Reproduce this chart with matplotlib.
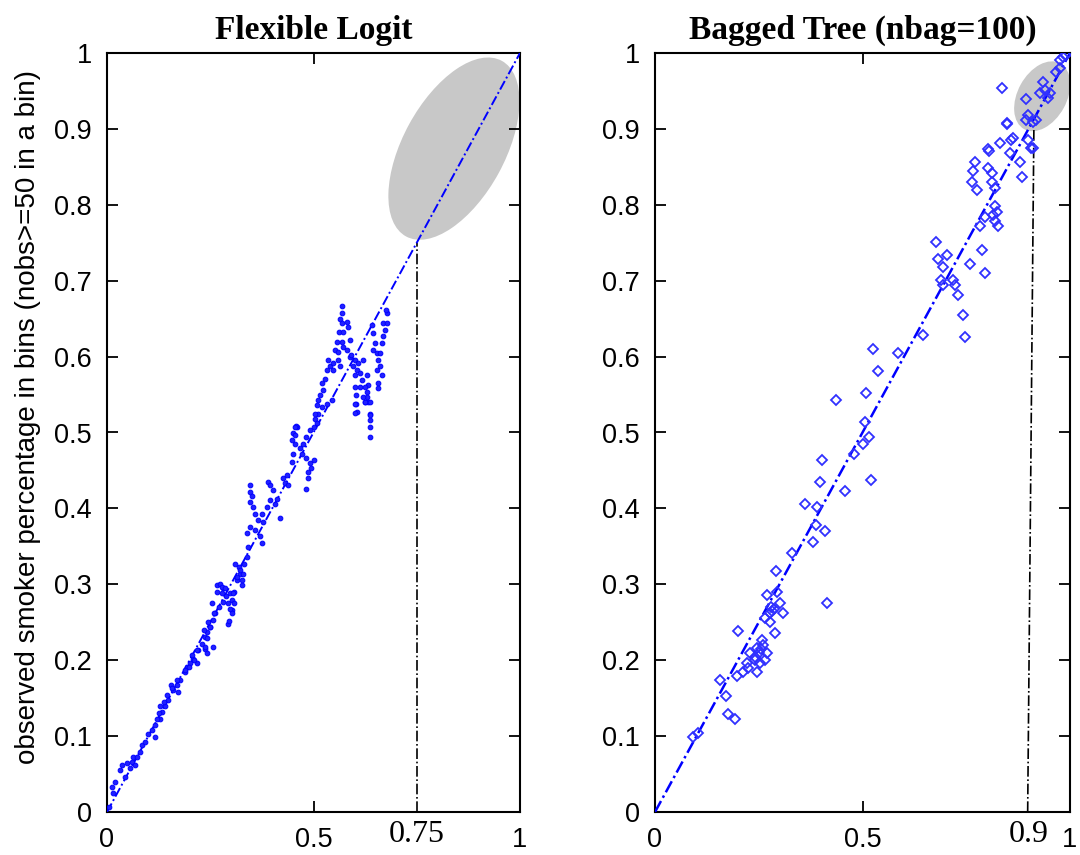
import matplotlib
matplotlib.use("Agg")
import matplotlib.pyplot as plt
from matplotlib.patches import Ellipse
from matplotlib.transforms import Affine2D, blended_transform_factory

plt.rcParams["font.family"] = ["Liberation Sans", "DejaVu Sans"]

# --- Flexible logit: predicted share vs observed share per bin ---
logit_pred = [
    0.006, 0.015, 0.011, 0.019, 0.031, 0.036, 0.048, 0.060, 0.068, 0.056, 0.044, 0.064,
    0.072, 0.080, 0.084, 0.092, 0.100, 0.108, 0.116, 0.116, 0.128, 0.132, 0.140, 0.148,
    0.161, 0.156, 0.169, 0.173, 0.177, 0.189, 0.193, 0.201, 0.209, 0.217, 0.205, 0.221,
    0.229, 0.237, 0.241, 0.249, 0.245, 0.257, 0.261, 0.270, 0.282, 0.294, 0.302, 0.294,
    0.237, 0.257, 0.241, 0.121, 0.125, 0.129, 0.137, 0.145, 0.157, 0.169, 0.190, 0.198,
    0.210, 0.218, 0.238, 0.242, 0.234, 0.250, 0.258, 0.254, 0.266, 0.274, 0.282, 0.266,
    0.278, 0.287, 0.299, 0.307, 0.303, 0.307, 0.299, 0.303, 0.295, 0.315, 0.323, 0.319,
    0.331, 0.327, 0.278, 0.286, 0.306, 0.314, 0.322, 0.310, 0.330, 0.326, 0.338, 0.342,
    0.338, 0.346, 0.358, 0.370, 0.375, 0.366, 0.378, 0.375, 0.387, 0.395, 0.419, 0.407,
    0.411, 0.403, 0.391, 0.395, 0.346, 0.346, 0.350, 0.346, 0.354, 0.358, 0.427, 0.431,
    0.439, 0.435, 0.447, 0.451, 0.455, 0.451, 0.459, 0.467, 0.471, 0.447, 0.475, 0.483,
    0.492, 0.500, 0.483, 0.492, 0.495, 0.487, 0.500, 0.487, 0.483, 0.504, 0.512, 0.508,
    0.520, 0.532, 0.544, 0.457, 0.568, 0.568, 0.564, 0.568, 0.580, 0.584, 0.562, 0.572,
    0.568, 0.556, 0.552, 0.560, 0.572, 0.588, 0.580, 0.588, 0.536, 0.540, 0.548, 0.532,
    0.528, 0.520, 0.523, 0.516, 0.512, 0.508, 0.560, 0.548, 0.564, 0.504, 0.455, 0.455,
    0.592, 0.600, 0.596, 0.608, 0.605, 0.600, 0.613, 0.621, 0.617, 0.613, 0.600, 0.603,
    0.603, 0.605, 0.629, 0.633, 0.629, 0.625, 0.630, 0.633, 0.636, 0.636, 0.636, 0.636,
    0.621, 0.625, 0.600, 0.600, 0.625, 0.637, 0.637, 0.641, 0.645, 0.649, 0.645, 0.653,
    0.657, 0.661, 0.653, 0.665, 0.669, 0.673, 0.669, 0.677, 0.679, 0.661, 0.665, 0.657,
    0.657, 0.675,
]
logit_obs = [
    0.007, 0.025, 0.033, 0.040, 0.055, 0.062, 0.064, 0.066, 0.062, 0.058, 0.046, 0.073,
    0.073, 0.079, 0.088, 0.092, 0.103, 0.108, 0.099, 0.115, 0.123, 0.132, 0.139, 0.148,
    0.161, 0.167, 0.167, 0.158, 0.174, 0.185, 0.191, 0.196, 0.202, 0.196, 0.207, 0.213,
    0.222, 0.231, 0.237, 0.244, 0.250, 0.253, 0.262, 0.270, 0.277, 0.275, 0.266, 0.248,
    0.215, 0.218, 0.209, 0.123, 0.130, 0.139, 0.145, 0.154, 0.163, 0.174, 0.187, 0.191,
    0.200, 0.213, 0.218, 0.229, 0.240, 0.244, 0.262, 0.275, 0.299, 0.301, 0.295, 0.290,
    0.288, 0.284, 0.288, 0.290, 0.279, 0.275, 0.268, 0.262, 0.251, 0.306, 0.314, 0.323,
    0.327, 0.299, 0.297, 0.295, 0.288, 0.310, 0.319, 0.327, 0.314, 0.306, 0.336, 0.349,
    0.367, 0.376, 0.372, 0.363, 0.354, 0.385, 0.382, 0.393, 0.402, 0.411, 0.387, 0.406,
    0.413, 0.424, 0.435, 0.431, 0.431, 0.422, 0.416, 0.409, 0.402, 0.393, 0.440, 0.433,
    0.431, 0.444, 0.461, 0.472, 0.485, 0.499, 0.507, 0.479, 0.472, 0.490, 0.485, 0.494,
    0.503, 0.507, 0.466, 0.460, 0.453, 0.448, 0.464, 0.440, 0.426, 0.518, 0.525, 0.512,
    0.534, 0.538, 0.543, 0.509, 0.667, 0.657, 0.650, 0.644, 0.646, 0.639, 0.633, 0.633,
    0.619, 0.619, 0.609, 0.606, 0.613, 0.622, 0.609, 0.600, 0.596, 0.587, 0.582, 0.582,
    0.571, 0.565, 0.556, 0.549, 0.543, 0.536, 0.596, 0.591, 0.587, 0.525, 0.507, 0.497,
    0.602, 0.596, 0.587, 0.591, 0.582, 0.576, 0.578, 0.596, 0.569, 0.560, 0.560, 0.549,
    0.538, 0.527, 0.576, 0.563, 0.554, 0.560, 0.547, 0.540, 0.525, 0.516, 0.507, 0.494,
    0.547, 0.540, 0.538, 0.526, 0.540, 0.540, 0.523, 0.642, 0.631, 0.618, 0.609, 0.605,
    0.596, 0.587, 0.582, 0.618, 0.627, 0.635, 0.644, 0.644, 0.657, 0.605, 0.576, 0.565,
    0.558, 0.662,
]

# --- Bagged tree (nbag=100): predicted share vs observed share per bin ---
tree_pred = [
    0.091, 0.103, 0.192, 0.175, 0.170, 0.156, 0.197, 0.211, 0.221, 0.252, 0.240, 0.245,
    0.201, 0.259, 0.288, 0.276, 0.264, 0.278, 0.309, 0.300, 0.295, 0.271, 0.292, 0.280,
    0.230, 0.240, 0.250, 0.260, 0.265, 0.225, 0.255, 0.270, 0.245, 0.282, 0.287,
    0.329, 0.381, 0.410, 0.388, 0.391, 0.362, 0.398, 0.403, 0.415, 0.458, 0.436, 0.480,
    0.501, 0.516, 0.520, 0.506, 0.508, 0.525, 0.537, 0.585, 0.645, 0.676, 0.681, 0.703,
    0.695, 0.688, 0.695, 0.717, 0.724, 0.729, 0.741, 0.746, 0.758, 0.789, 0.794, 0.784,
    0.796, 0.815, 0.820, 0.823, 0.820, 0.827, 0.763, 0.777, 0.813, 0.820, 0.767, 0.772,
    0.803, 0.811, 0.806, 0.880, 0.885, 0.856, 0.832, 0.863, 0.847, 0.899, 0.911, 0.803,
    0.837, 0.847, 0.859, 0.906, 0.894, 0.899, 0.894, 0.911, 0.918, 0.928, 0.935, 0.940,
    0.952, 0.947, 0.966, 0.976, 0.976, 0.983, 0.990,
]
tree_obs = [
    0.099, 0.104, 0.123, 0.129, 0.153, 0.174, 0.179, 0.184, 0.196, 0.196, 0.204, 0.216,
    0.238, 0.227, 0.236, 0.250, 0.256, 0.262, 0.262, 0.275, 0.290, 0.286, 0.317, 0.270,
    0.210, 0.200, 0.210, 0.220, 0.200, 0.190, 0.215, 0.210, 0.185, 0.265, 0.268,
    0.341, 0.356, 0.370, 0.378, 0.402, 0.406, 0.435, 0.464, 0.275, 0.423, 0.543, 0.472,
    0.485, 0.494, 0.437, 0.514, 0.552, 0.610, 0.581, 0.605, 0.628, 0.751, 0.729, 0.734,
    0.718, 0.701, 0.694, 0.701, 0.694, 0.681, 0.655, 0.626, 0.722, 0.740, 0.710, 0.772,
    0.784, 0.787, 0.798, 0.791, 0.779, 0.772, 0.830, 0.819, 0.830, 0.822, 0.845, 0.856,
    0.848, 0.842, 0.871, 0.856, 0.837, 0.868, 0.881, 0.888, 0.906, 0.885, 0.875, 0.874,
    0.954, 0.908, 0.885, 0.875, 0.939, 0.918, 0.912, 0.909, 0.912, 0.947, 0.962, 0.951,
    0.947, 0.941, 0.975, 0.991, 0.980, 0.995, 0.997,
]

diag = [0, 1]
y_ticks = [0, 0.1, 0.2, 0.3, 0.4, 0.5, 0.6, 0.7, 0.8, 0.9, 1]
y_tick_labels = ["0", "0.1", "0.2", "0.3", "0.4", "0.5", "0.6", "0.7", "0.8", "0.9", "1"]
x_ticks = [0, 0.5, 1]
x_tick_labels = ["0", "0.5", "1"]

# threshold guides: x positions (bottom, top) and top height
logit_cut_x = [0.75, 0.75]
logit_cut_top = 0.75
tree_cut_x = [0.898, 0.913]
tree_cut_top = 0.902

# highlighted regions (centre, pixel-scale axes, tilt)
logit_region = dict(center=(0.840, 0.874), size=(200, 102), angle=61.4)
tree_region = dict(center=(0.933, 0.943), size=(75, 49), angle=61.2)

fig = plt.figure(figsize=(10.8, 8.55), dpi=100)
ax1 = fig.add_axes([107 / 1080, 43 / 855, 413 / 1080, 759 / 855])
ax2 = fig.add_axes([655 / 1080, 43 / 855, 415 / 1080, 759 / 855])

diag_style = dict(color="#0000ff", lw=1.4, linestyle=(0, (5, 1.5, 1, 1.5)), zorder=3)


def add_region(ax, region, w_px, h_px):
    # ellipse defined in pixel-like units so it tilts along the diagonal on screen
    cx, cy = region["center"]
    tr = Affine2D().scale(1 / w_px, 1 / h_px) + ax.transData
    e = Ellipse((cx * w_px, cy * h_px), region["size"][0], region["size"][1],
                angle=region["angle"], facecolor="#c8c8c8", edgecolor="none",
                transform=tr, zorder=1)
    ax.add_patch(e)


def style_axes(ax, title, cut_label, cut_x):
    ax.set_xlim(0, 1)
    ax.set_ylim(0, 1)
    ax.set_xticks(x_ticks)
    ax.set_xticklabels(x_tick_labels)
    ax.set_yticks(y_ticks)
    ax.set_yticklabels(y_tick_labels)
    ax.tick_params(direction="in", length=8, width=1.3, labelsize=19.5,
                   top=True, right=True, colors="black")
    ax.tick_params(axis="x", pad=11)
    ax.tick_params(axis="y", pad=11)
    for s in ax.spines.values():
        s.set_linewidth(1.5)
    ax.set_title(title, fontsize=24, fontweight="bold", pad=10,
                 family=["Liberation Serif", "DejaVu Serif"])
    trans = blended_transform_factory(ax.transData, ax.transAxes)
    ax.text(cut_x, -0.029, cut_label, transform=trans, ha="center", va="center",
            fontsize=23, family=["Liberation Serif", "DejaVu Serif"])


# left panel
add_region(ax1, logit_region, 413, 759)
ax1.plot(diag, diag, **diag_style)
ax1.plot(logit_pred, logit_obs, linestyle="none", marker="o", markersize=3.4,
         markerfacecolor="#2020ff", markeredgecolor="#0000ff", markeredgewidth=0.7, zorder=4)
ax1.plot(logit_cut_x, [0, logit_cut_top], color="black", lw=1.2, linestyle="-.", zorder=2)
style_axes(ax1, "Flexible Logit", "0.75", 0.75)

# right panel
add_region(ax2, tree_region, 415, 759)
ax2.plot(diag, diag, **dict(diag_style, lw=1.8))
ax2.plot(tree_pred, tree_obs, linestyle="none", marker="D", markersize=5.4,
         markerfacecolor="none", markeredgecolor="#3030ff", markeredgewidth=1.3, zorder=4)
ax2.plot(tree_cut_x, [0, tree_cut_top], color="black", lw=1.2, linestyle="-.", zorder=2)
style_axes(ax2, "Bagged Tree (nbag=100)", "0.9", 0.9)

fig.text(0.026, 0.512, "observed smoker percentage in bins (nobs>=50 in a bin)",
         rotation=90, ha="center", va="center", fontsize=20)

fig.savefig("out.png", dpi=100)
